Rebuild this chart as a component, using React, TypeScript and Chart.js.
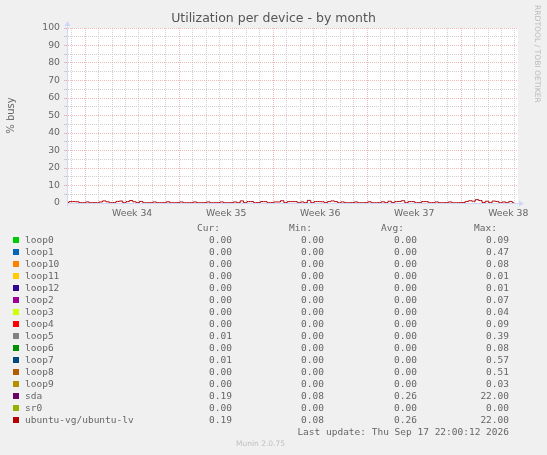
import { useEffect, useRef } from "react"
import { Chart, registerables } from "chart.js"

Chart.register(...registerables)

// ubuntu-vg/ubuntu-lv, % busy, one sample per 6 hours, oldest first.
// The last sample is the last update (Thu Sep 17 22:00 2026).
const lvBusy = [
  0.2, 0.8, 0.8, 0.7, 0.2, 0.15, 0.6, 0.15, 0.2, 0.15,
  0.6, 1.2, 0.7, 0.15, 0.2, 0.9, 1.1, 0.2, 0.8, 1.4,
  0.7, 0.2, 0.9, 0.15, 0.15, 0.2, 0.6, 0.15, 0.15, 0.2,
  0.7, 0.15, 0.15, 0.2, 0.6, 0.15, 0.15, 0.2, 0.6, 0.15,
  0.15, 0.2, 0.6, 0.15, 0.15, 0.2, 0.6, 0.15, 0.15, 0.2,
  0.6, 0.2, 1.2, 0.2, 0.8, 0.8, 0.15, 0.2, 0.8, 0.8,
  0.15, 0.2, 0.6, 0.6, 1.3, 0.2, 0.8, 0.8, 0.8, 0.15,
  0.6, 0.2, 1.5, 0.2, 0.8, 0.8, 0.7, 0.2, 0.8, 1.2,
  0.8, 0.15, 0.6, 0.15, 0.15, 0.2, 0.6, 0.15, 0.15, 0.2,
  0.7, 0.15, 0.15, 0.2, 0.7, 0.2, 1.0, 0.2, 0.8, 0.9,
  1.3, 0.2, 0.8, 0.8, 0.15, 0.2, 0.8, 0.8, 0.15, 0.2,
  0.6, 0.15, 0.15, 0.2, 0.6, 0.15, 0.15, 0.2, 0.3, 0.9,
  1.3, 1.0, 1.9, 1.4, 0.3, 1.0, 0.2, 1.1, 0.9, 0.15,
  0.6, 0.2, 0.9, 0.19,
]

// x axis is in days since Mon 17 Aug 2026 (start of week 34)
const firstSampleDay = -1.33
const sampleStep = 0.25
const weekLabels = ["Week 34", "Week 35", "Week 36", "Week 37", "Week 38"]

const devices = [
  "loop0", "loop1", "loop10", "loop11", "loop12", "loop2", "loop3", "loop4",
  "loop5", "loop6", "loop7", "loop8", "loop9", "sda", "sr0", "ubuntu-vg/ubuntu-lv",
]
const deviceColors = [
  "#00cc00", "#0066b3", "#ff8000", "#ffcc00", "#330099", "#990099", "#ccff00", "#ff0000",
  "#808080", "#008f00", "#00487d", "#b35a00", "#b38f00", "#6b006b", "#8fb300", "#b30000",
]
const curValues = [0, 0, 0, 0, 0, 0, 0, 0, 0.01, 0, 0.01, 0, 0, 0.19, 0, 0.19]
const minValues = [0, 0, 0, 0, 0, 0, 0, 0, 0, 0, 0, 0, 0, 0.08, 0, 0.08]
const avgValues = [0, 0, 0, 0, 0, 0, 0, 0, 0, 0, 0, 0, 0, 0.26, 0, 0.26]
const maxValues = [0.09, 0.47, 0.08, 0.01, 0.01, 0.07, 0.04, 0.09, 0.39, 0.08, 0.57, 0.51, 0.03, 22, 0, 22]

const AXIS = "#cfd6f8"
const MAJOR = "rgba(232, 150, 150, 0.65)"
const MINOR = "rgba(200, 200, 200, 0.85)"
const FONT = "#666666"

const plotBg = {
  id: "plotBg",
  beforeDraw(chart: Chart) {
    const { ctx, chartArea } = chart
    ctx.save()
    ctx.fillStyle = "#ffffff"
    ctx.fillRect(chartArea.left, chartArea.top, chartArea.right - chartArea.left + 1, chartArea.bottom - chartArea.top)
    ctx.restore()
  },
}

// rrdtool style arrows at the ends of the axes
const axisArrows = {
  id: "axisArrows",
  afterDraw(chart: Chart) {
    const { ctx, chartArea } = chart
    const l = chartArea.left + 0.5
    const b = chartArea.bottom + 0.5
    ctx.save()
    ctx.strokeStyle = AXIS
    ctx.fillStyle = AXIS
    ctx.lineWidth = 1
    ctx.beginPath()
    ctx.moveTo(l, b + 3)
    ctx.lineTo(l, chartArea.top - 2)
    ctx.moveTo(chartArea.right, b)
    ctx.lineTo(chartArea.right + 3, b)
    ctx.stroke()
    ctx.beginPath()
    ctx.moveTo(l, chartArea.top - 7)
    ctx.lineTo(l - 3, chartArea.top - 2)
    ctx.lineTo(l + 3, chartArea.top - 2)
    ctx.closePath()
    ctx.fill()
    ctx.beginPath()
    ctx.moveTo(chartArea.right + 7, b)
    ctx.lineTo(chartArea.right + 2, b - 3)
    ctx.lineTo(chartArea.right + 2, b + 3)
    ctx.closePath()
    ctx.fill()
    ctx.restore()
  },
}

function UtilChart() {
  const chartRef = useRef<HTMLCanvasElement>(null)
  const chartInstance = useRef<Chart | null>(null)

  useEffect(() => {
    if (!chartRef.current) return
    if (chartInstance.current) chartInstance.current.destroy()
    const ctx = chartRef.current.getContext("2d")
    if (!ctx) return

    const points = lvBusy.map((v, i) => ({ x: firstSampleDay + i * sampleStep, y: v }))

    chartInstance.current = new Chart(ctx, {
      type: "line",
      data: {
        datasets: [
          {
            label: "ubuntu-vg/ubuntu-lv",
            data: points,
            borderColor: "#b30000",
            borderWidth: 1,
            pointRadius: 0,
            stepped: "middle",
            fill: false,
          },
        ],
      },
      options: {
        animation: false,
        responsive: true,
        maintainAspectRatio: false,
        layout: { padding: { top: 28, right: 30, bottom: 0, left: 0 } },
        plugins: {
          legend: { display: false },
          tooltip: { enabled: false },
        },
        scales: {
          x: {
            type: "linear",
            min: -1.35,
            max: 32.15,
            afterBuildTicks: (scale: any) => {
              const ticks: { value: number }[] = []
              for (let d = -1; d <= 32; d++) ticks.push({ value: d })
              weekLabels.forEach((_, i) => ticks.push({ value: i * 7 + 3.5 }))
              scale.ticks = ticks.sort((a, b) => a.value - b.value)
            },
            afterFit: (scale: any) => {
              scale.height = 252
            },
            ticks: {
              autoSkip: false,
              maxRotation: 0,
              padding: 5,
              color: FONT,
              font: { family: "DejaVu Sans", size: 9.3 },
              callback: (value: any) => {
                const w = (Number(value) - 3.5) / 7
                return Number.isInteger(w) ? weekLabels[w] : ""
              },
            },
            grid: {
              drawTicks: false,
              color: (c: any) => {
                const v = c.tick?.value
                if (v === undefined || !Number.isInteger(v)) return "transparent"
                return v % 7 === 0 ? MAJOR : MINOR
              },
            },
            border: { color: AXIS, dash: [1, 1] },
          },
          y: {
            min: 0,
            max: 100,
            afterFit: (scale: any) => {
              scale.width = 67
            },
            ticks: {
              stepSize: 5,
              autoSkip: false,
              padding: 4,
              color: FONT,
              font: { family: "DejaVu Sans", size: 9.3 },
              callback: (value: any) => (Number(value) % 10 === 0 ? String(value) : ""),
            },
            grid: {
              tickLength: 3,
              color: (c: any) => {
                const v = c.tick?.value
                if (!v) return "transparent"
                return v % 10 === 0 ? MAJOR : MINOR
              },
            },
            border: { color: AXIS, dash: [1, 1] },
            title: {
              display: true,
              text: "% busy",
              color: FONT,
              font: { family: "DejaVu Sans", size: 10 },
              padding: { top: 5, bottom: 0 },
            },
          },
        },
      },
      plugins: [plotBg, axisArrows],
    })

    return () => {
      if (chartInstance.current) {
        chartInstance.current.destroy()
        chartInstance.current = null
      }
    }
  }, [])

  return (
    <div style={{ position: "absolute", left: 0, top: 0, width: 547, height: 455 }}>
      <canvas ref={chartRef} />
    </div>
  )
}

const mono = { fontFamily: "'DejaVu Sans Mono', monospace", fontSize: 9.5, color: FONT, lineHeight: "12px" }

function ValueCell({ text, right, top }: { text: string; right: number; top: number }) {
  return (
    <div style={{ ...mono, position: "absolute", top, right: 547 - right, whiteSpace: "pre", textAlign: "right" }}>
      {text}
    </div>
  )
}

export default function App() {
  return (
    <div
      style={{
        position: "fixed",
        left: 0,
        top: 0,
        width: 547,
        height: 455,
        background: "#f0f0f0",
        overflow: "hidden",
        fontFamily: "'DejaVu Sans', sans-serif",
      }}
    >
      <UtilChart />
      <div
        style={{
          position: "absolute",
          top: 10,
          left: 0,
          width: 547,
          textAlign: "center",
          fontSize: 12.5,
          color: "#555",
          lineHeight: "16px",
        }}
      >
        Utilization per device - by month
      </div>
      <div
        style={{
          position: "absolute",
          top: 5,
          left: 532,
          writingMode: "vertical-rl",
          fontSize: 7.6,
          color: "#bbbbbb",
          lineHeight: "10px",
          whiteSpace: "pre",
        }}
      >
        RRDTOOL / TOBI OETIKER
      </div>

      <ValueCell text="Cur:" right={220} top={222} />
      <ValueCell text="Min:" right={312} top={222} />
      <ValueCell text="Avg:" right={404} top={222} />
      <ValueCell text="Max:" right={497} top={222} />

      {devices.map((name, i) => {
        const top = 234 + i * 12
        return (
          <div key={name}>
            <div
              style={{
                position: "absolute",
                left: 13,
                top: top + 3,
                width: 6,
                height: 6,
                background: deviceColors[i],
              }}
            />
            <div style={{ ...mono, position: "absolute", left: 25, top, whiteSpace: "pre" }}>{name}</div>
            <ValueCell text={curValues[i].toFixed(2)} right={232} top={top} />
            <ValueCell text={minValues[i].toFixed(2)} right={324} top={top} />
            <ValueCell text={avgValues[i].toFixed(2)} right={417} top={top} />
            <ValueCell text={maxValues[i].toFixed(2)} right={509} top={top} />
          </div>
        )
      })}

      <ValueCell text="Last update: Thu Sep 17 22:00:12 2026" right={509} top={426} />
      <div
        style={{
          position: "absolute",
          top: 439,
          left: 0,
          width: 521,
          textAlign: "center",
          fontSize: 7.5,
          color: "#c0c0c0",
          lineHeight: "10px",
        }}
      >
        Munin 2.0.75
      </div>
    </div>
  )
}
